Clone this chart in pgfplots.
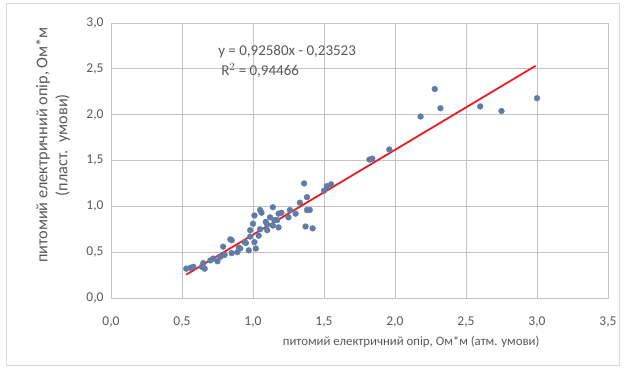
\documentclass[border=0pt]{standalone}
\usepackage{pgfplots}
\pgfplotsset{compat=1.18}
\usepackage{fontspec}
\setmainfont{Carlito}

\definecolor{gridgray}{RGB}{195,195,195}
\definecolor{txtgray}{RGB}{89,89,89}
\definecolor{ptblue}{RGB}{96,124,166}
\definecolor{trendred}{RGB}{232,28,36}
\definecolor{framegray}{RGB}{217,217,217}

\pgfplotstableread{
x y
0.53 0.32
0.56 0.33
0.58 0.34
0.64 0.34
0.65 0.38
0.66 0.32
0.70 0.41
0.72 0.43
0.75 0.40
0.77 0.45
0.79 0.56
0.80 0.47
0.84 0.64
0.85 0.63
0.85 0.49
0.89 0.50
0.90 0.55
0.91 0.54
0.94 0.61
0.95 0.60
0.97 0.52
0.98 0.74
0.98 0.67
1.00 0.81
1.01 0.61
1.01 0.90
1.02 0.54
1.04 0.68
1.05 0.96
1.05 0.75
1.06 0.93
1.09 0.83
1.10 0.74
1.10 0.80
1.12 0.88
1.14 0.99
1.14 0.79
1.15 0.85
1.17 0.85
1.18 0.77
1.18 0.92
1.20 0.93
1.25 0.88
1.26 0.96
1.30 0.92
1.33 1.04
1.36 1.25
1.37 0.78
1.38 0.96
1.38 1.10
1.40 0.96
1.42 0.76
1.50 1.17
1.52 1.22
1.55 1.24
1.82 1.51
1.84 1.52
1.96 1.62
2.18 1.98
2.28 2.28
2.32 2.07
2.60 2.09
2.75 2.04
3.00 2.18
}\datatable

\begin{document}
\begin{tikzpicture}
\useasboundingbox (-111pt,-74pt) rectangle (514pt,298pt);
\draw[framegray, line width=1pt] (-104pt,-68pt) rectangle (508pt,294pt);
\begin{axis}[
  at={(0pt,0pt)}, anchor=origin,
  scale only axis,
  width=497pt, height=275pt,
  xmin=0, xmax=3.5, ymin=0, ymax=3.0,
  xtick={0,0.5,...,3.5}, ytick={0,0.5,...,3.0},
  grid=major,
  grid style={gridgray, line width=0.9pt},
  axis line style={gridgray, line width=0.9pt},
  tick style={draw=none},
  /pgf/number format/assume math mode=true,
  /pgf/number format/.cd, fixed, fixed zerofill, precision=1, use comma,
  /pgfplots/.cd,
  ticklabel style={font=\fontsize{13.5}{15}\selectfont, text=txtgray},
  xticklabel style={yshift=-15pt},
  yticklabel style={xshift=-4pt},
  xlabel={питомий електричний опір, Ом*м (атм. умови)},
  ylabel={питомий електричний опір, Ом*м\\(пласт.\ \ умови)},
  xlabel style={font=\fontsize{12.8}{15}\selectfont, text=txtgray, at={(axis description cs:0.604,0)}, anchor=center, yshift=-44pt},
  ylabel style={font=\fontsize{16.3}{20}\selectfont, text=txtgray, align=center, at={(axis description cs:0,0.556)}, anchor=center, yshift=58pt},
  clip=false,
]
\addplot[only marks, mark=*, mark size=2.9pt, mark options={fill=ptblue, draw=ptblue}] table[x=x, y=y] {\datatable};
\addplot[trendred, line width=1.8pt] coordinates {(0.53,0.2554) (2.99,2.5329)};
\node[font=\fontsize{15}{20}\selectfont, text=txtgray, align=left, anchor=north west, inner sep=0pt] at (axis cs:0.754,2.76) {y = 0,92580x - 0,23523\\\hspace*{3pt}R$^2$ = 0,94466};
\end{axis}
\end{tikzpicture}
\end{document}
